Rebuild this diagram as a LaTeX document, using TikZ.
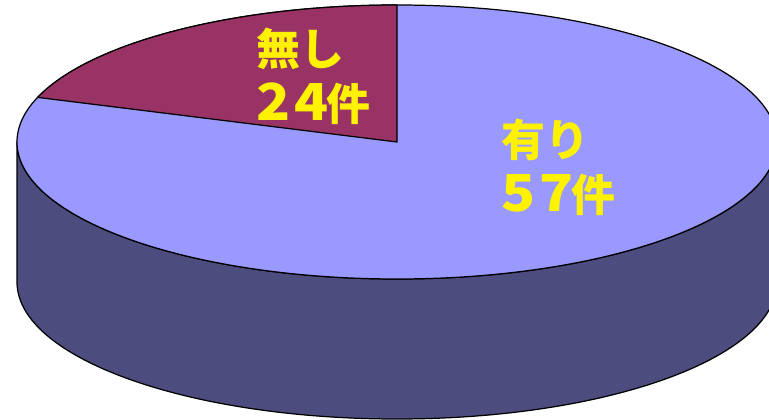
\documentclass[tikz,border=0pt]{standalone}
\usepackage{fontspec}
\newfontfamily\jpfont{Noto Sans CJK JP}
\usepackage{tikz}
\definecolor{aritop}{HTML}{9999FF}
\definecolor{nashitop}{HTML}{993366}
\definecolor{pieside}{HTML}{4C4C7E}
\newcommand{\wideno}[2]{{\fontsize{29}{31}\selectfont\scalebox{1.1}[1]{#1}\kern2.5pt\scalebox{1.1}[1]{#2}}\kern-1.5pt}
\tikzset{pieedge/.style={draw=black, line width=0.7pt, line join=round}}
\tikzset{slicelabel/.style={anchor=north west, inner sep=0pt, align=left, text=yellow, font=\jpfont\bfseries\fontsize{25}{31}\selectfont}}
\tikzset{every picture/.append style={x=0.02cm, y=0.02cm}}

\begin{document}
\begin{tikzpicture}
%3d pie: side first, then the top ellipse and the small slice
\clip (0,0) rectangle (769,420);
\coordinate (c) at (397,278);
\coordinate (l) at (17,278);
\coordinate (lb) at (17,138);
\coordinate (r) at (777,278);
\coordinate (top) at (397,415);
\filldraw[pieedge, fill=pieside] (l)--(lb) arc[start angle=180, end angle=360, x radius=380, y radius=137]--(r) arc[start angle=0, end angle=-180, x radius=380, y radius=137]--cycle;
\filldraw[pieedge, fill=aritop] (c) ellipse[x radius=380, y radius=137];
\filldraw[pieedge, fill=nashitop] (c)--(top) arc[start angle=90, end angle=161, x radius=380, y radius=137]--cycle;
\node (nashi) at (256,392)[slicelabel]{無し\\\wideno{2}{4}件};
\node (ari) at (501,301)[slicelabel]{有り\\\wideno{5}{7}件};
\end{tikzpicture}
\end{document}
